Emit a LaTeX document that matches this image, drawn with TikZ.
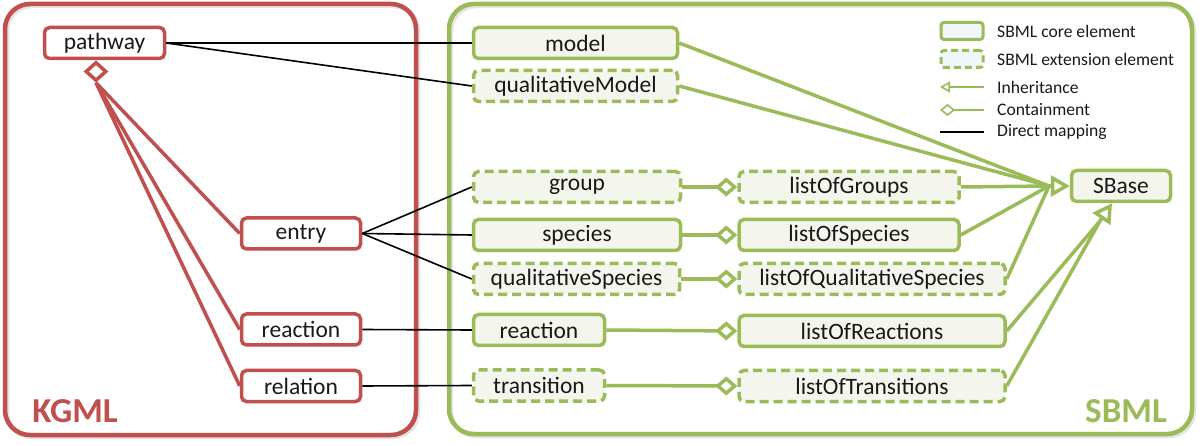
\documentclass[tikz,border=0pt]{standalone}
\usepackage{fontspec}
\setmainfont{Carlito}
\usetikzlibrary{arrows.meta,shapes.geometric}
\definecolor{kred}{HTML}{C0504D}
\definecolor{sgreen}{HTML}{9BBB59}
\definecolor{nfill}{HTML}{F4F6EE}
\definecolor{lfill}{HTML}{F1F6FB}
\newcommand\nfnt{\fontsize{23.5}{28}\selectfont}
\newcommand\lfnt{\fontsize{17.6}{21}\selectfont}
\newcommand\bfnt{\fontsize{35}{40}\selectfont\bfseries}
\begin{document}
\begin{tikzpicture}[x=1pt,y=-1pt,
  kbox/.style={draw=kred, line width=3.5pt, rounded corners=5pt, fill=white, minimum height=31pt, inner sep=0pt, text=black!90, font=\nfnt},
  sbox/.style={draw=sgreen, line width=3.5pt, rounded corners=5pt, fill=nfill, minimum height=31pt, inner sep=0pt, text=black!90, font=\nfnt},
  ebox/.style={sbox, dash pattern=on 9pt off 5pt},
  outer/.style={line width=4.5pt, rounded corners=25pt},
  map/.style={line width=1.6pt, black},
  kline/.style={draw=kred, line width=3.5pt},
  gline/.style={draw=sgreen, line width=3.5pt},
  cont/.style={gline, -{Diamond[open,length=22pt,width=19pt]}},
  inh/.style={gline, -{Triangle[open,fill=white,length=19pt,width=21pt]}},
  legtext/.style={anchor=west, font=\lfnt, text=black!90, inner sep=0pt}
]
\useasboundingbox (0,0) rectangle (1200,446);
% outer boxes with faint shadow
\draw[line width=4.5pt, rounded corners=25pt, draw=black!10] (7,6) rectangle (418,437);
\draw[line width=4.5pt, rounded corners=25pt, draw=black!10] (451,6) rectangle (1194,436);
\draw[outer, draw=kred] (5,4) rectangle (416,435);
\draw[outer, draw=sgreen] (449,4) rectangle (1192,434);
\node[text=kred, font=\bfnt] (kgmllabel) at (75,411) {KGML};
\node[text=sgreen, font=\bfnt] (sbmllabel) at (1126,411) {SBML};

% KGML nodes
\node[kbox, minimum width=120pt] (pathway) at (104.5,43) {pathway};
\node[kbox, minimum width=119pt] (entry) at (301,233.5) {entry};
\node[kbox, minimum width=119pt] (reactionK) at (301,329.5) {reaction};
\node[kbox, minimum width=119pt] (relation) at (301,386) {relation};
\node[draw=kred, line width=3.5pt, fill=white, shape=diamond, minimum width=21pt, minimum height=19pt, inner sep=0pt] (pd) at (96,71.5) {};

% SBML column 1
\node[sbox, minimum width=204pt] (model) at (575.5,43) {model};
\node[ebox, minimum width=204pt] (qmodel) at (575.5,86) {qualitativeModel};
\node[ebox, minimum width=207pt] (group) at (577,187) {group};
\node[sbox, minimum width=207pt] (species) at (577,235) {species};
\node[ebox, minimum width=206pt] (qspecies) at (576.5,279) {qualitativeSpecies};
\node[sbox, minimum width=131pt] (reactionS) at (539,330) {reaction};
\node[ebox, minimum width=131pt] (transition) at (539,385.5) {transition};

% SBML column 2
\node[ebox, minimum width=220pt] (logroups) at (849,187) {listOfGroups};
\node[sbox, minimum width=220pt] (lospecies) at (849,235) {listOfSpecies};
\node[ebox, minimum width=266pt] (loqs) at (872,279) {listOfQualitativeSpecies};
\node[sbox, minimum width=266pt] (loreactions) at (872,331) {listOfReactions};
\node[ebox, minimum width=266pt] (lotransitions) at (872,386) {listOfTransitions};
\node[sbox, minimum width=99pt] (sbase) at (1121,186) {SBase};

% KGML containment
\draw[kline] (pd.south) -- (entry.west);
\draw[kline] (pd.south) -- (reactionK.west);
\draw[kline] (pd.south) -- (relation.west);

% direct mapping
\draw[map] (pathway.east) -- (model.west);
\draw[map] (pathway.east) -- (qmodel.west);
\draw[map] (entry.east) -- (group.west);
\draw[map] (entry.east) -- (species.west);
\draw[map] (entry.east) -- (qspecies.west);
\draw[map] (reactionK.east) -- (reactionS.west);
\draw[map] (relation.east) -- (transition.west);

% containment SBML
\draw[cont] (group.east) -- (logroups.west);
\draw[cont] (species.east) -- (lospecies.west);
\draw[cont] (qspecies.east) -- (loqs.west);
\draw[cont] (reactionS.east) -- (loreactions.west);
\draw[cont] (transition.east) -- (lotransitions.west);

% inheritance
\coordinate (sbin1) at (1049,186);
\coordinate (sbin2) at (1100,221);
\draw[gline] (model.east) -- (sbin1);
\draw[gline] (qmodel.east) -- (sbin1);
\draw[gline] (logroups.east) -- (sbin1);
\draw[gline] (lospecies.east) -- (sbin1);
\draw[gline] (loqs.east) -- (sbin1);
\draw[inh] (sbin1) -- (sbase.west);
\draw[gline] (loreactions.east) -- (sbin2);
\draw[gline] (lotransitions.east) -- (sbin2);
\draw[inh] (sbin2) -- ([xshift=-9pt]sbase.south);

% legend
\node[draw=sgreen, line width=3pt, rounded corners=3pt, fill=lfill, minimum width=42pt, minimum height=17pt, inner sep=0pt] (legcore) at (962,31) {};
\node[draw=sgreen, line width=3pt, rounded corners=3pt, fill=lfill, minimum width=42pt, minimum height=17pt, inner sep=0pt, dash pattern=on 7pt off 4pt] (legext) at (962,59) {};
\node[legtext] (t1) at (997,31) {SBML core element};
\node[legtext] (t2) at (997,59) {SBML extension element};
\node[legtext] (t3) at (997,87) {Inheritance};
\node[legtext] (t4) at (997,110) {Containment};
\node[legtext] (t5) at (997,132) {Direct mapping};
\coordinate (li1) at (984,87); \coordinate (li2) at (940,87);
\coordinate (lc1) at (984,110); \coordinate (lc2) at (940,110);
\coordinate (lm1) at (984,132); \coordinate (lm2) at (940,132);
\draw[draw=sgreen, line width=1.6pt, -{Triangle[open,length=10pt,width=11pt]}] (li1) -- (li2);
\draw[draw=sgreen, line width=1.6pt, -{Diamond[open,length=15pt,width=12pt]}] (lc1) -- (lc2);
\draw[line width=2pt, black] (lm1) -- (lm2);
\end{tikzpicture}
\end{document}
